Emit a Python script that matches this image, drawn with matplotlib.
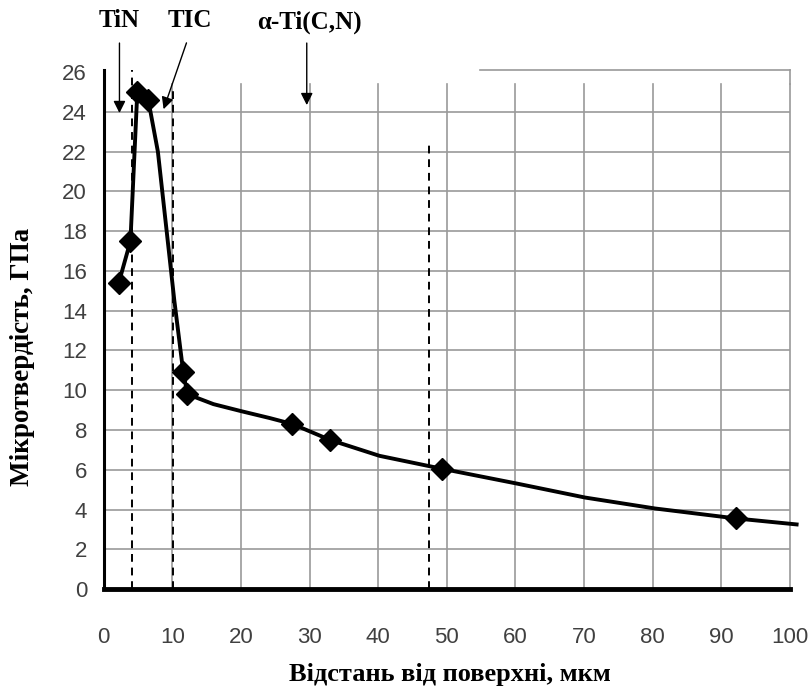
import numpy as np
import matplotlib
matplotlib.use("Agg")
import matplotlib.pyplot as plt

# measured points (markers)
x_pts = [2.2, 3.9, 4.9, 6.5, 11.6, 12.2, 27.5, 33.0, 49.3, 92.2]
y_pts = [15.4, 17.5, 25.0, 24.6, 10.9, 9.8, 8.3, 7.5, 6.05, 3.55]

# smoothed curve through the points
x_line = [2.2, 3.9, 4.5, 4.9, 6.5, 7.9, 10.3, 11.6, 12.2, 16.0, 20.0, 24.2, 27.5,
          33.0, 40.2, 49.3, 60.3, 70.2, 80.4, 92.2, 101.0]
y_line = [15.4, 17.5, 22.0, 25.0, 24.6, 22.0, 14.5, 10.9, 9.8, 9.3, 8.95, 8.6, 8.3,
          7.5, 6.7, 6.05, 5.3, 4.6, 4.05, 3.55, 3.25]

phase_x = [4.2, 10.1, 47.4]
phase_top = [26.1, 25.2, 22.4]

x_ticks = list(range(0, 101, 10))
y_ticks = list(range(0, 27, 2))

serif = "Liberation Serif"
sans = "Liberation Sans"

fig = plt.figure(figsize=(8.1, 6.93), dpi=100)
ax = fig.add_axes([0.128, 0.150, 0.847, 0.746])
ax.set_xlim(0, 100)
ax.set_ylim(0, 26)

# grid
for xv in x_ticks[1:]:
    ax.plot([xv, xv], [0, 25.4], color="#9a9a9a", lw=1.2, zorder=1, clip_on=False)
for yv in y_ticks[1:-1]:
    ax.plot([0, 100], [yv, yv], color="#9a9a9a", lw=1.2, zorder=1)
ax.plot([54.8, 100], [26.1, 26.1], color="#9a9a9a", lw=1.2, zorder=1, clip_on=False)
ax.plot([100, 100], [25.4, 26.1], color="#9a9a9a", lw=1.2, zorder=1, clip_on=False)

for xv, top in zip(phase_x, phase_top):
    ax.plot([xv, xv], [0, top], color="black", lw=1.4, ls=(0, (4, 3)), zorder=2, clip_on=False)

ax.plot(x_line, y_line, color="black", lw=2.8, zorder=3, clip_on=False)
ax.plot(x_pts, y_pts, ls="none", marker="D", ms=11, color="black", zorder=4)

for s in ["top", "right"]:
    ax.spines[s].set_visible(False)
ax.spines["left"].set_linewidth(2.2)
ax.spines["bottom"].set_linewidth(3.5)
ax.spines["left"].set_bounds(0, 26.1)

ax.set_xticks(x_ticks)
ax.set_yticks(y_ticks)
ax.tick_params(length=0, labelsize=16, labelcolor="#404040", pad=12)
ax.tick_params(axis="x", pad=27)
for lab in ax.get_xticklabels() + ax.get_yticklabels():
    lab.set_family(sans)

ax.set_xlabel("Відстань від поверхні, мкм", family=serif, fontweight="bold",
              fontsize=19)
ax.set_ylabel("Мікротвердість, ГПа", family=serif, fontweight="bold",
              fontsize=19.5)
ax.xaxis.set_label_coords(0.505, -0.143)
ax.yaxis.set_label_coords(-0.100, 0.449)

arrow = dict(arrowstyle="-|>", color="black", lw=1.0, mutation_scale=18)
ax.annotate("", xy=(2.3, 23.8), xytext=(2.3, 27.6), arrowprops=arrow, annotation_clip=False)
ax.annotate("", xy=(8.6, 24.0), xytext=(12.2, 27.6), arrowprops=arrow, annotation_clip=False)
ax.annotate("", xy=(29.6, 24.2), xytext=(29.6, 27.6), arrowprops=arrow, annotation_clip=False)
ax.text(2.3, 28.6, "TiN", family=serif, fontweight="bold", fontsize=18, ha="center", va="center")
ax.text(12.5, 28.6, "TIC", family=serif, fontweight="bold", fontsize=18, ha="center", va="center")
ax.text(30.0, 28.5, "α-Ti(C,N)", family=serif, fontweight="bold", fontsize=18, ha="center", va="center")

fig.savefig("out.png", dpi=100)
